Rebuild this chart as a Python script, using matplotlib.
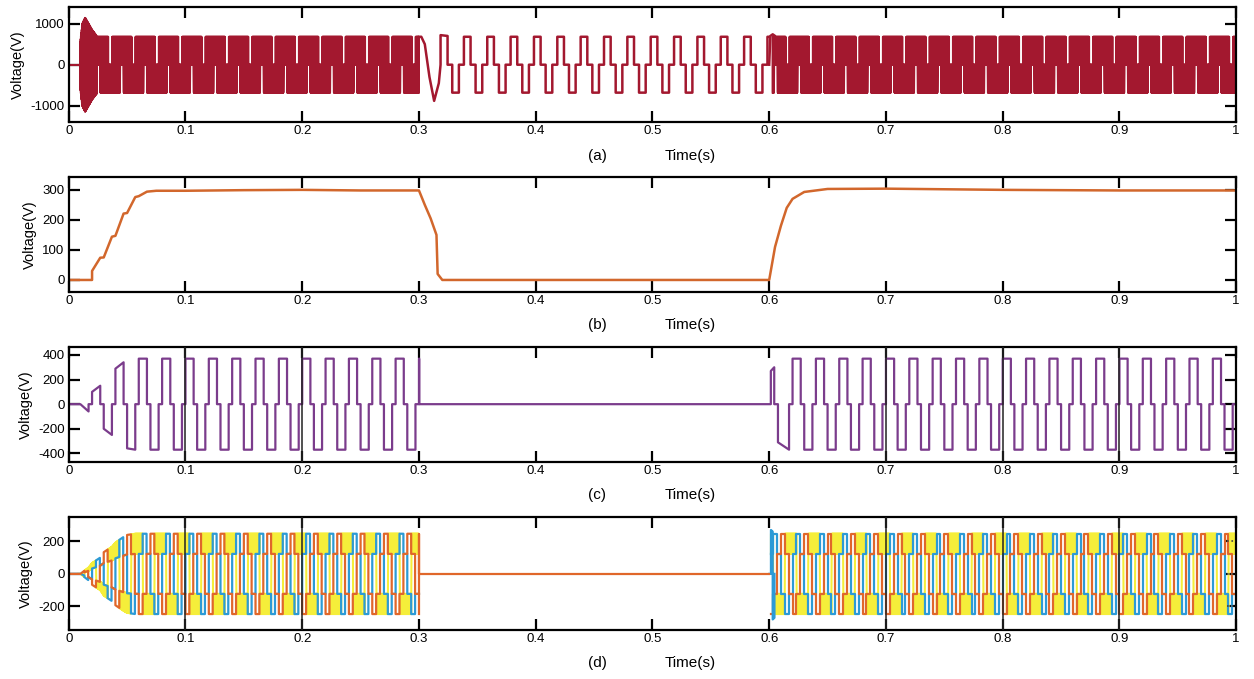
import numpy as np
import matplotlib
matplotlib.use("Agg")
import matplotlib.pyplot as plt

plt.rcParams['font.family'] = ['Liberation Sans', 'DejaVu Sans']
plt.rcParams['axes.unicode_minus'] = False

# ---------------- values ----------------
period = 0.02                      # 50 Hz fundamental in every panel
x_ticks = [0, 0.1, 0.2, 0.3, 0.4, 0.5, 0.6, 0.7, 0.8, 0.9, 1.0]
x_ticklabels = ['0', '0.1', '0.2', '0.3', '0.4', '0.5', '0.6', '0.7', '0.8', '0.9', '1']
panel_tags = ['(a)', '(b)', '(c)', '(d)']
# dark vertical lines that run through panels (c) and (d)
cd_lines = [0.1, 0.2, 0.7, 0.8, 0.9]

env_t = [0.010, 0.017, 0.020, 0.027, 0.030, 0.037, 0.040, 0.047, 0.050, 0.057]
env_g = [0.0, 0.16, 0.27, 0.405, 0.54, 0.676, 0.78, 0.92, 0.97, 1.0]

# (a) line voltage with PWM
a_yticks = [-1000, 0, 1000]
a_level = 680
a_start_t = [0.0097, 0.0115, 0.014, 0.017, 0.020, 0.024]
a_start_v = [550, 1000, 1150, 1000, 850, 700]
a_pwm_spans = [(0.024, 0.300), (0.603, 1.0)]
a_top_block = (0.017, 0.034)       # part of each period with positive pulses
a_bot_block = (0.007, 0.024)       # part of each period with negative pulses
a_sq_levels = [680, 0, -680, 0]
a_sq_widths = [0.0057, 0.0043, 0.0057, 0.0043]
a_sq_span = (0.3305, 0.6)
a_sq_offset = -0.0015
a_trans_t = [0.300, 0.302, 0.305, 0.309, 0.313, 0.317, 0.3185, 0.3185, 0.3245, 0.3245, 0.3285, 0.3285, 0.3305]
a_trans_v = [680, 680, 500, -300, -880, -450, 0, 720, 700, 0, 0, -680, -680]
a_bump_t = [0.600, 0.601, 0.603, 0.605, 0.606]
a_bump_v = [0, 700, 740, 700, 0]

# (b) dc link voltage
b_yticks = [0, 100, 200, 300]
b_t = [0, 0.020, 0.020, 0.027, 0.030, 0.037, 0.040, 0.047, 0.050, 0.057, 0.060,
       0.067, 0.075, 0.10, 0.15, 0.20, 0.25, 0.30, 0.305, 0.310, 0.315, 0.316,
       0.320, 0.60, 0.605, 0.610, 0.615, 0.620, 0.630, 0.650, 0.70, 0.80, 0.90, 1.0]
b_v = [0, 0, 30, 74, 75, 144, 147, 221, 223, 276, 279,
       294, 297, 297, 299, 300, 298, 298, 250, 205, 150, 20,
       0, 0, 110, 180, 240, 270, 293, 303, 304, 300, 298, 298]

# (c) quasi-square line voltage
c_yticks = [-400, -200, 0, 200, 400]
c_amp = 370
c_levels = [1, 0, -1, 0]
c_widths = [0.007, 0.003, 0.007, 0.003]
c_spans = [(0.0, 0.300), (0.620, 1.0)]
c_stop_t = [0.300, 0.300, 0.3003, 0.3003, 0.600]
c_stop_v = [0, 370, 370, 0, 0]
c_restart_t = [0.600, 0.6014, 0.6014, 0.6043, 0.6043, 0.6075, 0.6075, 0.617, 0.617, 0.620]
c_restart_v = [0, 0, 270, 300, 0, 0, -310, -370, 0, 0]

# (d) three phase voltages (six-step)
d_yticks = [-200, 0, 200]
d_levels = [123, 247, 123, -123, -247, -123]
d_shift = {'blue': 0.0, 'orange': 1 / 3, 'yellow': 2 / 3}    # fraction of a period
d_colors = {'blue': '#2C9AD6', 'orange': '#E0672A', 'yellow': '#F5EE3A'}
d_spans = [(0.0, 0.300), (0.6015, 1.0)]
d_spike_t = [0.600, 0.6015, 0.6015, 0.6030, 0.6030, 0.6045, 0.6045]
d_spike_v = [0, 0, 270, 260, -280, -270, 0]
d_stop_t = [0.300, 0.300, 0.300, 0.600]
d_stop_v = [-247, 247, 0, 0]
d_end_t = [0.992, 1.0]
d_end_levels = [200, 0, -200]


# ---------------- helpers ----------------
def stairs(levels, widths, t0, t1, offset=0.0):
    total = sum(widths)
    edges = np.concatenate([[0], np.cumsum(widths)])
    ts, vs = [], []
    k = int(np.floor((t0 - offset) / total)) - 1
    while offset + k * total < t1:
        base = offset + k * total
        for i, lv in enumerate(levels):
            a = max(base + edges[i], t0)
            b = min(base + edges[i + 1], t1)
            if b > a:
                ts += [a, b]
                vs += [lv, lv]
        k += 1
    return np.array(ts), np.array(vs, dtype=float)


def in_block(t, block):
    ph = (t - block[0]) % period
    return ph < (block[1] - block[0])


def chopped(t0, t1, upper_fn, lower_fn, tc=0.0004):
    tk = np.arange(t0, t1, tc)
    up = upper_fn(tk)
    lo = lower_fn(tk)
    ts = np.repeat(tk, 4) + np.tile([0, 0, tc / 2, tc / 2], len(tk))
    vs = np.column_stack([lo, up, up, lo]).ravel()
    return ts, vs


def gain(t):
    return np.interp(t, env_t, env_g)


def style(ax, yticks, ylim, tag, ylab_x):
    ax.set_xlim(0, 1)
    ax.set_ylim(*ylim)
    ax.set_xticks(x_ticks)
    ax.set_xticklabels(x_ticklabels)
    ax.set_yticks(yticks)
    ax.tick_params(direction='in', length=8, width=1.6, top=True, right=True,
                   labelsize=9.5, pad=3)
    ax.tick_params(axis='x', pad=2)
    for s in ax.spines.values():
        s.set_linewidth(1.6)
    ax.set_ylabel('Voltage(V)', fontsize=10.5)
    ax.yaxis.set_label_coords(ylab_x, 0.5)
    ax.text(0.4527, -0.29, tag, transform=ax.transAxes, ha='center', va='center', fontsize=11)
    ax.text(0.532, -0.29, 'Time(s)', transform=ax.transAxes, ha='center', va='center', fontsize=11)


fig = plt.figure(figsize=(12.54, 6.79), dpi=100)
L, W = 0.0548, 0.931
ax_a = fig.add_axes([L, 0.820, W, 0.1694])
ax_b = fig.add_axes([L, 0.570, W, 0.1694])
ax_c = fig.add_axes([L, 0.3196, W, 0.1694])
ax_d = fig.add_axes([L, 0.0722, W, 0.1664])

# ---- (a)
red = '#A3182F'
ts, vs = chopped(a_start_t[0], a_start_t[-1],
                 lambda t: np.interp(t, a_start_t, a_start_v),
                 lambda t: -np.interp(t, a_start_t, a_start_v), tc=0.0003)
ax_a.plot([0, a_start_t[0]], [0, 0], color=red, lw=1.5)
ax_a.plot(ts, vs, color=red, lw=1.2)
for t0, t1 in a_pwm_spans:
    ts, vs = chopped(t0, t1,
                     lambda t: np.where(in_block(t, a_top_block), a_level, 0),
                     lambda t: np.where(in_block(t, a_bot_block), -a_level, 0))
    ax_a.plot(ts, vs, color=red, lw=1.5)
ts, vs = stairs(a_sq_levels, a_sq_widths, a_sq_span[0], a_sq_span[1], offset=a_sq_offset)
ax_a.plot(np.concatenate([a_trans_t, ts]), np.concatenate([a_trans_v, vs]), color=red, lw=1.8)
ax_a.plot(a_bump_t, a_bump_v, color=red, lw=1.8)
style(ax_a, a_yticks, (-1400, 1400), panel_tags[0], -0.0375)

# ---- (b)
ax_b.plot(b_t, b_v, color='#D2672C', lw=1.8)
style(ax_b, b_yticks, (-40, 343), panel_tags[1], -0.0272)

# ---- (c)
purple = '#7B3C8C'
ts0, vs0 = stairs(c_levels, c_widths, *c_spans[0])
vs0 = vs0 * c_amp * gain(ts0)
ts1, vs1 = stairs(c_levels, c_widths, *c_spans[1])
vs1 = vs1 * c_amp
ax_c.plot(np.concatenate([ts0, c_stop_t, c_restart_t, ts1]),
          np.concatenate([vs0, c_stop_v, c_restart_v, vs1]), color=purple, lw=1.6)
for x in cd_lines:
    ax_c.axvline(x, color='#222222', lw=1.1, zorder=3)
style(ax_c, c_yticks, (-470, 465), panel_tags[2], -0.0306)

# ---- (d)
for name in ['yellow', 'blue', 'orange']:
    off = d_shift[name] * period
    for t0, t1 in d_spans:
        if name == 'yellow':
            def sgn(t):
                ph = ((t - off) % period) / period
                return np.where(ph < 0.5, 1.0, -1.0)
            ts, vs = chopped(t0 + 0.008 * (t0 == 0), t1,
                             lambda t: sgn(t) * d_levels[1] * gain(t),
                             lambda t: sgn(t) * d_levels[0] * gain(t))
            lw = 1.5
        else:
            ts, vs = stairs(d_levels, [period / 6] * 6, t0, t1, offset=off)
            vs = vs * gain(ts)
            lw = 1.6
        ax_d.plot(ts, vs, color=d_colors[name], lw=lw, zorder=2)
ax_d.plot(d_spike_t, d_spike_v, color=d_colors['blue'], lw=1.6, zorder=3)
ax_d.plot(d_stop_t, d_stop_v, color=d_colors['orange'], lw=1.6, zorder=4)
for lv in d_end_levels:
    ax_d.plot(d_end_t, [lv, lv], color='#444444', lw=1.2, ls=':', zorder=5)
for x in cd_lines:
    ax_d.axvline(x, color='#222222', lw=1.1, zorder=5)
style(ax_d, d_yticks, (-345, 350), panel_tags[3], -0.0306)

fig.savefig('out.png', dpi=100)
